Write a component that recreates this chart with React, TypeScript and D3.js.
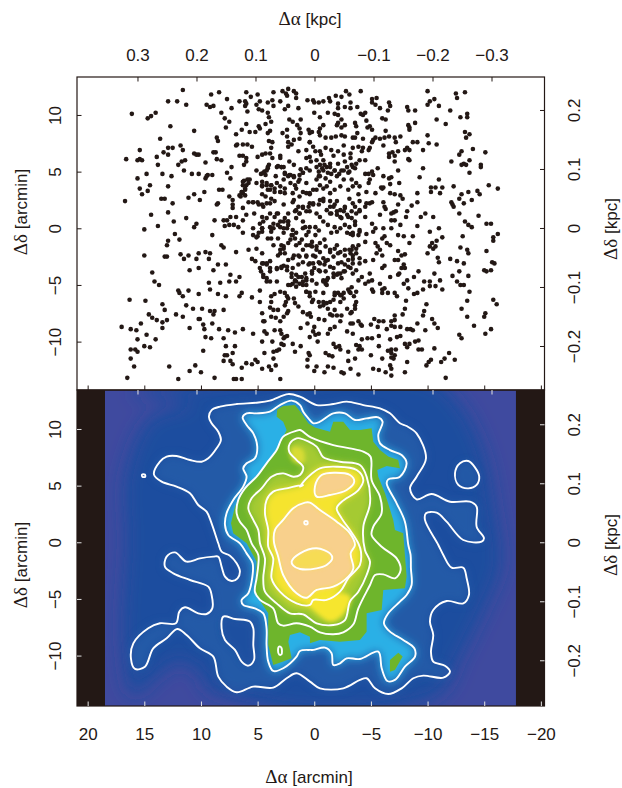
import React, { useRef, useEffect } from 'react';
import * as d3 from 'd3';

type Pt = [number, number];

// tick labels
const arcminTicksX = [20, 15, 10, 5, 0, -5, -10, -15, -20];
const arcminTicksY = [10, 5, 0, -5, -10];
const kpcTicksX = [0.3, 0.2, 0.1, 0, -0.1, -0.2, -0.3];
const kpcTicksY = [0.2, 0.1, 0, -0.1, -0.2];

// map coverage in arcmin, the rest of the panel is blank (black)
const mapEdgesX = [18.47, -17.8];
const mapEdgesY = [13.44, -14.45];

// star positions [d_alpha, d_delta] in arcmin
const starsUpperLeft: Pt[] = [
[11.6,12.2],[9.1,11.8],[8.4,12],[7.7,11.4],[12.9,11.2],[12.1,11.2],[11.3,10.9],[9.5,10.9],[9.2,10.7],[8.9,10.8],[16.1,10.1],[14.7,9.7],[14.4,9.9],[14,10.2],[8.2,10.2],[7.9,9.7],[7.5,9.4],[7.8,8.9],[7.3,10.6],[12.7,9],[10.6,8.6],[13.6,7.9],[8.6,8],[8.5,7.7],[12.9,7.1],[12.5,7.1],[11.8,7.3],[11.6,6.9],[15.4,6.9],[13.3,6.7],[12.9,6.5],[13.9,6.3],[16.6,6.1],[15.6,6],[15.4,6.1],[15.2,6],[10.6,6.6],[10.4,6.5],[10.2,6.5],[8.9,6.7],[8.7,6.7],[8.6,6.1],[8.2,6],[13.8,5.6],[9.6,5.8],[11.4,6],[11.7,5.9],[12,5.6],[13.4,4.8],[14.8,4.8],[15.6,4.4],[12.6,4.6],[11.5,5.1],[10.8,4.8],[10.2,4.8],[7.7,4.9],[7.3,5.4],[9.4,4.7],[9,4.7],[9.5,4.6],[9.6,4.4],[7.4,4.4],[12.9,3.7],[15.4,3.5],[14.5,3.8],[14.7,3.3],[15.2,3],[8.4,3.4],[8.1,3.4],[9.7,3.2],[10.6,3],[11.1,2.7],[10.1,2.5],[7.5,2.8],[16.7,2.4],[13.5,2.6],[13.2,2.6],[12.5,2.2],[8.5,2.2],[8.6,2.1],[12.9,1.4],[14.4,1.2],[11.3,0.9],[12.4,0.6],[8.8,0.7],[13.8,0.2],[15,-0.1],[10.4,0.4],[10.6,0.1],
[6,12],[5.6,11.6],[5,11.8],[3.6,12],[2.8,12.1],[2.5,11.9],[2.3,12.3],[1.8,12.1],[1.6,11.9],[2.4,11.7],[1.6,11.5],[0.6,11.3],[6.6,11.2],[6.1,11.2],[6,11],[5.1,10.9],[4.8,11.2],[4.1,11.1],[3.7,11.3],[3.6,10.8],[3,11.2],[2.6,10.5],[2.3,10.8],[1.4,10.6],[6.1,10.8],[5.9,10.3],[4.9,10.5],[4.6,10.4],[4.1,10.2],[4,9.8],[3.8,9.4],[4.3,9.2],[6,9.2],[6.4,8.7],[6.9,8.3],[5.7,8.5],[5.2,8.5],[4.9,9],[4.8,8.8],[3.9,8.6],[4.1,8.4],[2.8,8.4],[2.4,8.7],[2.2,9.6],[1.9,9.4],[1.2,9.6],[1.5,9.1],[1.3,8.8],[1.2,8.4],[0.5,8.7],[0.4,8.4],[2.4,8.1],[2.3,7.6],[1.8,7.8],[1.3,7.9],[2.3,7.2],[2,7.4],[1.4,6.8],[0.7,6.9],[0.4,7.6],[6.9,7.3],[6.8,7.4],[6.3,7.4],[5.9,7.4],[5.5,7.2],[4,7.7],[3.7,7.6],[3.8,7.1],[3.9,6.6],[4.3,6.6],[4.6,6.5],[5,6.3],[6.6,6.4],[6.3,6.4],[6,6.2],[6,5.9],[6.2,5.6],[5.1,5.1],[4.4,5],[4.1,5.3],[4,5.6],[3,6.4],[3,6.2],[3.7,6.2],[3.3,5.4],[2.9,5.4],[2.7,5.4],[2.2,5.9],[1.8,5.6],[1.2,5.2],[0.7,6.2],[0.3,5.9],[4.7,4.8],[4.3,4.7],[3.4,4.6],[2.6,4.9],[2.3,4.6],[2.2,4.7],[1.8,4.6],[1.3,4.7],[1,4.9],[6.2,4.2],[5.9,4.3],[5.7,4.3],[6.3,3.8],[6,3.8],[6.1,3.4],[6.4,3.2],[6.3,3.1],[6.5,2.8],[7.2,2.5],[7.2,2.1],[7.2,1.8],[6.3,1.8],[6,1.2],[5.3,1.3],[4.6,1],[5.1,4],[4.6,4.1],[4.6,3.7],[4.2,3.8],[3.8,3.8],[3.3,4],[2.7,4.3],[3,3.7],[2.6,3.5],[2.1,4],[1.7,3.8],[1.3,4.3],[0.7,4],[3.9,3.4],[3.5,3.2],[3,3.2],[4.6,3],[4.3,2.8],[3.8,2.6],[5.4,2.3],[5,2.3],[4.6,2.1],[3.9,2.2],[3.5,2.4],[2.7,2.1],[1.8,2.5],[1.3,2.8],[0.7,3.1],[1.6,1.6],[1,1.9],[0.4,2.2],[3.9,1.3],[3.3,1.3],[2.3,1.3],[1.3,1.3],[0.7,1.5],[4.8,0.4],[4.2,0.9],[3.6,0.4],[2.7,0.6],[2.3,0.6],[1.6,0.9],[1,0.6],[6.3,0.7],[6.9,1],[7.4,1],[7.7,0.7],[8,0.7],[7.9,0.2],[7.5,0.3],[7.1,0.3],[6.7,0.1],[5.4,0],[4.6,0],[3.8,0],[3,0.1],[2.4,0],[1,0],[0.4,0.1],
];

const starsUpperRight: Pt[] = [
[-2.8,12.1],[-4.1,12.1],[-3.1,11.8],[-2.4,11.6],[-1.9,11.7],[-1.3,11.5],[-0.8,11.2],[-0.4,11.1],[0.1,11.3],[0,11.1],[-1.4,11.2],[-2.1,11],[-3.2,11.1],[-3.2,10.6],[-2.7,10.7],[-2.1,10.6],[-3.8,10.7],[-5.1,11.4],[-5.5,11.5],[-5.1,11.1],[-5.4,10.9],[-5.8,10.6],[-6.6,11.1],[-6.7,10.8],[-6.5,10.4],[-8.2,10.7],[-8.3,10.4],[-8.9,10.4],[-10,12.1],[-10.6,11.4],[-10.2,11.2],[-10,10.9],[-11,10.8],[-12.5,11.9],[-13.3,12],[-12.6,11.5],[-12,10.4],[-12.9,9.8],[-13.5,10.1],[-13.5,9.8],[-10.8,9.6],[-11.6,9.2],[0,10.2],[-0.5,9.8],[-1.2,10.2],[-1.8,10.1],[-2.1,10],[-2.4,9.6],[-2.1,9.3],[-4.1,10.1],[-4.5,10.2],[-4.3,10],[-4.6,9.5],[-3.6,9.3],[-3.7,9],[-2.7,9.1],[-0.8,9.1],[-0.5,8.8],[-2.4,8.9],[-2,9.1],[-4.7,8.9],[-4.9,9],[-5.1,8.7],[-3.8,8.4],[-6.3,8.6],[-6,9.7],[-6.3,9.6],[-8.3,9.1],[-8.4,8.9],[-8.9,9.3],[-8.4,8.7],[-13.3,8.5],[-13.7,8.3],[-13.4,8],[-10,8.2],
[0.2,8.5],[-0.4,8.5],[-0.5,8.2],[-1,8],[-1.5,8],[-1.9,8.1],[-2.4,8.2],[-2.7,8.1],[-3.4,8],[-3.6,8],[-4.3,7.9],[-5.2,7.8],[-5.1,7.6],[-5.4,8],[-5.8,7.9],[-6.2,8],[-6.6,8.1],[-7.1,8],[-7.6,8.1],[-7.2,7.6],[-6.1,7.3],[-8.7,7.6],[-9.1,7.6],[-10.1,7.5],[-10.8,7.4],[-8.2,7.1],[-8,6.9],[-8.4,6.9],[-9.6,6.9],[-14,7],[-15.1,6.7],[-13,6.8],[-12.8,6.5],[-12.1,5.9],[-13.7,6],[-13.2,5.7],[-13,5.6],[-13.4,5.6],[-14.7,5.6],[-14.7,5.4],[-6.6,6.6],[-6.9,6.7],[-7.4,6.8],[-6.6,6.3],[-7.1,6.4],[-7.1,5.9],[-8.3,6.1],[-8.4,6],[-13.7,4.9],[-9.6,5.3],[-9.3,4.5],[-7.4,5.1],[-11,4.3],[-12.3,3.7],[-15.4,3.8],[-16.2,3.5],[-10.3,3.6],[-10.7,3.6],[-11.3,3.6],[-10.3,3.2],[-11.1,3.1],[-9.1,3.1],[-13.6,3.2],[-14.4,3.3],[-14.6,3],[-13,3],[-12.8,2.6],[-13.9,2.5],[-12.1,2.3],[-12.2,2.1],[-12.3,1.9],[-13.2,2.2],[-9.1,2.3],[-8.6,2],[-14.5,1.1],[-12.8,1.3],[-9.8,1.3],[-9.4,1],[-10.5,1],[-13.3,0.6],[-13.6,0.3],[-13.9,0.1],[-15.2,0.4],[-15.6,0.4],[-9.1,0.2],[-11,0],
[-6.8,4.5],[-6.6,4.4],[-6.1,4.6],[-5.6,5.3],[-5.2,4.7],[-5.1,5],[-4.5,4.8],[-4.8,4.8],[-4.9,4.3],[-4.8,4],[-6.7,3.9],[-7.5,4],[-5.9,3.6],[-6.1,3.6],[-6.7,3.1],[-7.1,3],[-7.6,2.9],[-7.8,2.6],[-7.4,2.1],[-6.1,2.3],[-6.2,1.9],[-6.3,1.7],[-7.2,1.5],[-7,1.4],[-6.8,1.3],[-8.2,1.5],[-8.1,1],[-6.8,0.7],[-7.1,0.7],[-7.6,0.3],[-6.1,0],[-6.8,0],[-5.4,0],[-5.1,0.4],[-5.8,1.2],[-4.9,2.2],[-4.5,1.9],[-4,2.4],[-4,1.6],[-4.5,1],[-3.7,1.3],[-3.3,1.5],[-3.3,0.9],[-3.6,0.6],[-3,1],[-2.6,1.5],[-2.3,1],[-2,1.5],[-1.7,1.9],[-1.1,1.6],[-1.4,1.3],[-0.5,1],[-0.2,1.3],[0.4,1.5],[0.1,2.1],[-0.5,2.5],[-0.8,2.6],[-1.4,2.4],[-2,2.4],[-2.7,1.9],[-3.1,2.6],[-3.4,2.2],[-3.9,3],[-4.6,3.2],[-5.4,3.1],[-6,3.5],[-4,3.7],[-3.4,3.7],[-3,3.4],[-2.3,3.7],[-1.8,3.4],[-1.1,3.7],[-0.5,3.8],[0.1,3.4],[0.4,3],[-0.4,4.6],[-1,4.4],[-1.4,4.1],[-2,4.6],[-2.6,4.3],[-3.3,4.3],[-3.7,4],[-0.8,5.1],[-1.2,4.9],[-1.8,5.1],[-2.4,5.1],[-3,4.9],[-3.4,5.4],[-4,6],[-4.5,6],[-3.2,6.2],[-2.6,6.5],[-2.1,6.8],[-1.5,6.9],[-1,7.1],[-0.5,6.8],[-0.1,6.8],[0.4,6.3],[-0.2,6],[-0.8,6],[-1.4,5.7],[-2.1,5.7],[-2.7,5.9],[-0.2,5.4],[0.4,5.1],[-0.5,5.6],[-1.1,5.4],[-2.6,7.3],[-3.4,7.1],[-3.9,7.2],[-4.3,7.1],[-4.2,6.8],[-4.9,7.1],[-4.8,6.9],[-3.2,6.6],[-1.7,6.4],[-0.6,6.5],[0.1,7.2],[0.4,7.6],
];

const starsLowerLeft: Pt[] = [
[12.3,-0.5],[12.9,-1.1],[13,-1.5],[11.9,-1],[9,-0.6],[8.2,-1.5],[8,-1.7],[6.9,-2.1],[15,-2.4],[13.2,-2.5],[13,-2.5],[11.8,-2.3],[11.5,-2.7],[11.1,-2.4],[10.2,-2.2],[10.4,-2.7],[9.6,-2.1],[9.2,-2.2],[9.3,-2.7],[5.8,-1.9],[5.1,-1.8],[4.6,-2.2],[5.5,-2.7],[5.2,-2.9],[8.5,-3.2],[7.8,-3.2],[11,-3.7],[10.2,-3.5],[8.9,-3.7],[14.3,-3.9],[7.4,-4.1],[6.6,-4.3],[14.1,-4.7],[13.7,-5],[9.3,-4.8],[8.3,-4.8],[7.5,-4.7],[6.9,-4.7],[9.2,-5.4],[12,-5.5],[11.9,-5.7],[11.1,-5.5],[10.2,-5.8],[11.6,-6],[8.5,-5.8],[7.8,-6],[6.4,-5.7],[6.6,-6],[16.3,-6.3],[14.9,-6.4],[5.5,-6.1],[4.8,-5.5],[4.8,-6.5],[13.4,-6.7],[11.3,-6.8],[13.2,-7.2],[10.7,-7.1],[9.9,-7.1],[8,-7.2],[9.2,-7.3],[8.8,-7.3],[8.9,-7.6],[14.6,-7.6],[14.3,-7.9],[13.9,-8.1],[13.4,-8.3],[13,-8.1],[12.2,-7.6],[11.6,-7.8],[10.2,-8],[10.1,-8],[9,-8.4],[9.8,-8.5],[17,-8.7],[16.2,-8.9],[15.7,-9],[15.3,-8.4],[13.4,-8.8],[11,-8.8],[9.7,-8.9],[8.4,-8.9],[7.6,-9],[7,-9.2],[6.3,-8.9],[5.4,-9.3],[9.6,-9.6],[9.1,-9.7],[14.8,-9.4],[15.6,-9.8],[14,-9.8],[8,-9.7],[7.8,-10.4],[7,-10.4],[4.6,-10],[15,-10.4],[14.5,-10.5],[16.2,-10.7],[15.8,-10.7],[15.6,-10.9],[9.8,-10.8],[16.2,-11.5],[7.9,-11.2],[7.7,-11.2],[7.2,-11],[8,-11.7],[7.4,-11.7],[7.2,-12],[15.9,-12.2],[12.8,-12.2],[10.5,-12.1],[11,-12.6],[10,-12.7],[16.5,-13.2],[12,-13.3],[8.8,-13.2],[7.1,-13.3],[6.9,-13.3],[6.4,-13.3],[6.4,-12.3],[6,-11.9],[5.5,-12],[5.2,-11.6],[5,-11.8],[4.6,-12.4],[4,-12.2],[3.8,-12.5],[3.4,-12.1],[3,-13.3],[4.4,-11],[3.6,-11.5],[3.6,-10.9],[3.3,-10.8],[3.1,-10.7],[3.7,-10],[2.9,-10.2],[2.7,-10.3],[2.6,-9.6],[2.4,-9.5],[1.9,-10.2],[1.2,-10.4],[1.7,-10.9],[1.2,-8.8],[0.6,-8.4],[0.4,-9.6],[0.6,-11.6],[0.6,-12.2],[0.5,-11],[3,-9],[2.9,-9.3],[2.7,-9.7],[3.5,-9],[4.2,-9.3],[4.4,-9.1],[4.5,-8.2],[4.4,-8.2],[4.6,-7.5],[3.9,-7],[3.6,-7.2],[3.2,-7.2],[3.8,-7.8],[3.4,-7.9],[3,-8.2],[2.3,-7.3],[2.4,-7.5],[2.7,-7.8],[2.4,-6],[2.5,-6.5],[2.6,-6.8],[3,-5.6],[3.5,-5.8],[3.8,-6],[3.8,-6.5],[1.8,-6.2],[1.7,-6.6],[1.4,-6.9],[1,-7.4],[0.6,-7.6],[0.3,-7.8],[0.4,-5.7],[0.7,-5.6],[4.7,-3.8],[4.2,-3.1],[4.6,-3.1],[3.9,-2.9],[4.5,-4.3],[4.2,-4.7],[3.3,-4.7],[2.7,-3.3],[2.3,-2.8],[1.8,-2.4],[1.3,-2.5],[0.7,-2.4],[3.3,-3.6],[2.9,-3.5],[2.4,-3.4],[3.9,-3.8],[2,-4],[1.6,-4.1],[1.1,-4.3],[0.7,-4.6],[2.3,-5],[1.9,-4.9],[1.3,-4.9],[0.7,-5],[1.7,-4.6],[3,-2.2],[2.7,-1.8],[2.9,-1.5],[2.3,-1.3],[1.6,-1.5],[1.1,-1],[0.4,-1.5],[3.6,-1.5],[4.1,-0.9],[5,-0.7],[6.3,-0.4],[5.4,-0.6],[4.6,-0.3],[3.8,-0.3],[2.7,-0.4],[1.9,-0.6],[0.7,-0.6],
];

const starsLowerRight: Pt[] = [
[-10.2,-0.3],[-11.3,-0.8],[-13.1,-0.7],[-16.2,-0.5],[-15.8,-0.8],[-15.8,-1.1],[-10.4,-1.3],[-10.8,-1.1],[-10.2,-1.6],[-10.7,-1.6],[-10.5,-1.8],[-12.9,-1.7],[-13.5,-1.9],[-13.6,-2.2],[-10,-2.2],[-10.9,-2.6],[-11,-3],[-12,-2.7],[-12.6,-2.9],[-13.2,-3.1],[-15.2,-2],[-15.7,-3],[-15.9,-3.1],[-15.6,-3.7],[-15,-3.7],[-15.2,-3.8],[-12.8,-3.8],[-10.6,-4],[-12.2,-4.2],[-13.6,-4.2],[-9.7,-4.7],[-10.2,-4.7],[-11.1,-4.6],[-12.6,-4.7],[-12.9,-5],[-13.2,-5],[-10.2,-5.1],[-10.7,-5.1],[-9.6,-5.4],[-11.3,-5.4],[-13.7,-5.6],[-9.2,-3.8],[-8.8,-4.3],[-8.2,-4.6],[-7.9,-4.9],[-8.3,-5.3],[-8.8,-5.8],[-9.1,-5.7],[-8.1,-6.4],[-9.9,-6.7],[-13.5,-6.4],[-15.8,-6.3],[-16.1,-6.7],[-13,-7.1],[-9.7,-7.3],[-9.6,-7.7],[-8,-7.1],[-7.8,-7.6],[-7.1,-7.7],[-15.1,-7.5],[-15,-7.8],[-13.5,-7.8],[-10.4,-8],[-10.6,-8.4],[-10.9,-8.8],[-9.1,-8.4],[-14.1,-8.6],[-15.6,-8.9],[-15.1,-9.3],[-9.8,-9],[-8.5,-8.9],[-8.7,-9],[-8.2,-8.9],[-7.1,-8.1],[-6.8,-8.2],[-6.8,-8.6],[-7.1,-8.7],[-7.6,-8.7],[-6.4,-8.9],[-5.7,-8.2],[-5.3,-8],[-6.1,-8.2],[-5,-8.5],[-5.6,-8.7],[-4.1,-8.5],[-3.9,-8.2],[-4.2,-8.6],[-3.2,-8.4],[-3.4,-8.4],[-2.4,-7.7],[-2,-7.7],[-1.6,-7.7],[-2.3,-8.2],[-1.4,-7.6],[-0.9,-8.1],[-0.4,-8],[-1.8,-8.7],[-1.4,-8.9],[-1.2,-9.3],[0,-8.7],[0.1,-9.1],[-0.4,-9.3],[-0.1,-9.4],[-0.3,-10],[-2.9,-9.1],[-3.4,-9.3],[-5.7,-9.5],[-4.7,-9.7],[-4.2,-9.8],[-5.1,-9.7],[-6.7,-9.8],[-7.3,-9.6],[-7.6,-9.5],[-8,-10.2],[-8.2,-10.5],[-8.4,-10.2],[-8.9,-10],[-9.2,-9.9],[-9.2,-10.7],[-9.5,-10.7],[-10.6,-10.6],[-11.9,-11],[-11.5,-11.5],[-11.2,-11.8],[-12.4,-11.6],[-10.3,-11.6],[-10.1,-11.8],[-9.9,-12.1],[-12.8,-9.4],[-13,-9.7],[-8.2,-11.8],[-8,-12.7],[-11.6,-13.2],[-6.8,-10.7],[-7.2,-10.7],[-6.5,-10.8],[-6.8,-11],[-7.1,-11.2],[-6.8,-11.4],[-7,-11.5],[-5.7,-10.4],[-5,-11.2],[-6,-11.5],[-6.7,-12.1],[-6.8,-12.4],[-6.3,-12.7],[-6.8,-13],[-5.2,-12.4],[-5.7,-12.5],[-3.9,-12.9],[-3.2,-12.4],[-2.6,-12.8],[-2.4,-12.7],[-1.7,-12.3],[-1.2,-12.2],[-0.9,-12.7],[0,-12.6],[-0.2,-12.2],[-3.6,-11.5],[-3,-11.7],[-1.6,-11.3],[-1.3,-11.2],[-1,-11],[0.4,-11.2],[-1.7,-10.2],[-1.9,-10.5],[-2.2,-10.4],[-2.3,-10.7],[-3,-10.9],[-3.7,-10.3],[-4,-10.4],[-4.2,-10.7],[-3.9,-10.7],
[-2.9,-0.4],[-3.2,-0.5],[-3.4,-0.6],[-4,-0.3],[-4.6,-0.5],[-5.2,-0.3],[-6,-0.9],[-6.2,-0.7],[-4.5,-1.2],[-5.4,-1.3],[-5.6,-1.6],[-5.8,-1.9],[-6,-2.4],[-5.5,-2.2],[-5.2,-2.8],[-6.2,-3.3],[-6.7,-4.3],[-6,-3.5],[-5.8,-4.9],[-6,-5.4],[-6,-5.7],[-6.2,-5.3],[-6.5,-5.7],[-7.1,-5.7],[-7.3,-6],[-7.4,-4.1],[-7.5,-4],[-7.7,-3.5],[-8,-3.5],[-7.9,-3.2],[-7.4,-2.8],[-7.1,-2.8],[-6.7,-1.5],[-6.4,-1.3],[-7.4,-2],[-7.7,-2.4],[-8,-2.3],[-8.4,-1.3],[-8.7,-0.7],[-7.4,-0.6],[-7.9,-0.7],[-4.9,-4],[-5.1,-4.6],[-4.8,-4.7],[-4.2,-4.3],[-3.9,-4.6],[-4.5,-4.9],[-5.2,-5.6],[-5.1,-5.4],[-3.7,-5.6],[-3.3,-5.2],[-3,-5.4],[-3.2,-5.7],[-2.6,-5.7],[-2.1,-5.7],[-1.8,-5.9],[-2.4,-5.9],[-3.5,-6],[-3.7,-6.5],[-3.6,-6.8],[-3.6,-7.1],[-3.3,-7.4],[-3.2,-7.5],[-2.9,-7.1],[-2.3,-6.5],[-1.8,-7.2],[-1.2,-7.1],[-0.8,-6.8],[-0.5,-6.9],[-0.4,-6.5],[-0.8,-6.5],[-1.1,-6.6],[-1.4,-6.5],[-1.7,-6.3],[0.1,-6.3],[0.2,-6.5],[0.4,-7.5],[-0.1,-5.6],[-0.8,-5.7],[-1,-4.9],[-0.8,-4.6],[-1.1,-4.6],[-0.2,-4.9],[0.2,-4.6],[-1.7,-4],[-2,-4.1],[-2.3,-4],[-2.4,-4.4],[-2.7,-3.8],[-3.2,-3.5],[-3.4,-4],[-3.7,-3.7],[-4,-3.1],[-4.5,-2.9],[-3.4,-2.7],[-3.2,-2.2],[-3.3,-1.9],[-3.7,-2.2],[-3.9,-1.5],[-3.4,-1.6],[-2.7,-1.9],[-2.1,-2.2],[-1.8,-1.8],[-1.4,-2.1],[-1,-1.6],[-0.5,-1.3],[-0.2,-1.9],[0.2,-1.6],[-0.1,-2.5],[0.4,-3.1],[-0.5,-3.1],[-1,-2.9],[-1.4,-3.4],[-1,-3.8],[-0.5,-3.8],[0,-3.5],[0.2,-4],
];

const starsCore: Pt[] = [
[-0.4,5],[-0.7,5.3],[-0.9,5.6],[-1.4,5.4],[-1.8,5.1],[-2.2,4.8],[-2.6,5.1],[-2.9,5.4],[-3.3,5.6],[-3.7,5.7],[-3.1,5],[-3.6,5.3],[-1.5,4.8],[-0.5,4.6],[-0.2,4.3],[2.6,4.8],[2.1,4.7],[1.8,4.5],[1.4,4.1],[1,4.9],[0.7,5.3],[2.9,5.4],[3.2,5.5],[4.2,5.1],[4.5,4.9],[4.1,5.4],[6.3,4.1],[5.8,4],[6.1,3.5],[6.4,3.2],[6.1,2.9],[6.6,2.9],[4.6,3.8],[4.2,4],[3.8,3.8],[3.5,3.5],[4.1,3.4],[3,3.2],[2.6,3.1],[1.9,3.1],[1.6,3.5],[1,3.2],[0.4,3.1],[-0.2,3.4],[-0.8,3.5],[-1.4,3.1],[5.8,2.3],[5.4,2.3],[4.9,2.1],[4.5,1.9],[4.2,2.2],[1.9,2.3],[1.4,1.9],[1,1.8],[0.5,1.9],[0.1,2.2],[-0.4,2.1],[-0.8,2.4],[-1.4,1.9],[-1.8,2.1],[-2.3,1.6],[-2.7,1.8],[1.7,1.5],[1.3,1.3],[-1.5,1.3],[-2,1.2],[-2.4,0.9],[-2.9,1.2],[-3.6,1.9],[-4,1.5],[-4.6,2.2],[-5.1,2.3],
[2.6,0.9],[2.3,0.6],[3,0.6],[3.5,1],[3.2,1.3],[3.9,0.1],[3.6,0],[3.2,0.3],[2.7,0],[2.3,0.3],[1.9,-0.15],[1.6,-0.4],[2,-0.6],[4.5,0.6],[4.6,0],[4.9,-0.4],[5.1,-0.8],[0.8,0.1],[0.5,-0.3],[-0.1,0.1],[-0.4,-0.2],[-0.1,-0.6],[-0.8,0.6],[-1.2,0.3],[-1.8,0.1],[-2.3,0],[-2.7,0.3],[-3.1,0.1],[-3.6,0.3],[-4,-0.15],[-1.5,-0.4],[-2,-0.3],[-3.4,-0.4],[-3.9,-0.6],[3.2,-0.9],[3.8,-0.9],[2.7,-1.6],[3,-1.9],[3.2,-2.4],[2.6,-2.2],[2.1,-1],[1.7,-0.9],[1.3,-1.3],[1,-1.9],[0.7,-1.5],[0.2,-1.2],[-0.2,-1.6],[-0.5,-2.1],[0.1,-2.4],[0.7,-2.5],[1.4,-2.4],[1.9,-2.65],[-0.9,-1],[-1.4,-1.9],[-2,-1.5],[-2.3,-2.1],[-2.7,-2.4],[-3.1,-1.9],[-3.4,-2.4],[-3.7,-1.8],[-4,-2.65],[-3,-2.8],[-2.4,-3],
[4.5,-3.1],[4.2,-3.2],[3.9,-3.5],[4.8,-3.5],[4.5,-4.1],[4.2,-4.4],[3.9,-4.7],[3.3,-3.5],[2.9,-3.4],[2.4,-3.7],[1.9,-3.5],[1.4,-3.2],[1,-3],[0.5,-3.2],[0.1,-3.1],[-0.4,-3],[-0.8,-2.65],[-1.2,-2.8],[-1.7,-2.5],[-0.9,-3.2],[-0.4,-3.7],[0.2,-3.8],[0.8,-4],[1.4,-4.3],[2,-4.3],[1.6,-4.7],[1,-4.7],[0.7,-4.4],[2.1,-5],[1.6,-5.15],[1,-5],[-0.8,-4.7],[-1.2,-4.4],[-1.7,-4.3],[-2.1,-4],[-2.6,-3.8],[-3,-3.4],[-3.4,-3.1],[-2.1,-3.1],[-2.7,-3.2],[-1.7,-3.5],[-1.1,-5],[-1.8,-5.7],[-2.3,-5.9],[-2.6,-6.2],[-3.1,-5.6],[2.6,-5.7],[2.3,-6.2],[0.7,-5.6],[0.4,-6],
];

// white iso-density contours in the lower panel, arcmin
const contourOuter: Pt[] = [
[2.3,13.08],[3.91,12.5],[5.09,12.32],[6.85,12.2],[8.32,11.97],[9.06,11.67],[9.3,11.08],[9.06,10.5],[8.47,9.76],[8.24,9.03],[8.62,8.29],[9.35,7.41],[9.94,7.11],[10.97,7.26],[12.15,7.61],[13.03,7.56],[13.62,7.11],[14.15,6],[13.47,5.35],[12.15,4.91],[10.97,4.32],[10.24,3.29],[9.5,2.7],[9.06,1.67],[8.47,-0.09],[8.18,-0.83],[7.44,-1.18],[6.85,-1.86],[6.56,-2.59],[6.77,-3.18],[7.29,-3.42],[7.88,-3.03],[8.18,-2.15],[8.47,-1.27],[8.91,-1.27],[10.09,-1.42],[11.27,-1.71],[12.3,-0.89],[13.03,-1.27],[13.18,-2.15],[12.44,-2.74],[10.97,-3.33],[9.35,-3.92],[9.06,-4.65],[9,-5.83],[9.5,-6.33],[10.24,-6.27],[11.41,-5.74],[11.91,-6.12],[12.21,-7.15],[13.62,-7.15],[14.65,-7.59],[15.97,-8.92],[16.18,-10.24],[15.82,-11.18],[14.94,-10.98],[14.21,-9.36],[13.03,-8.48],[12.09,-7.65],[11.27,-8.18],[10.09,-9.36],[8.91,-10.09],[8.47,-11.86],[7.74,-12.74],[6.85,-13.24],[5.38,-12.74],[3.62,-12.83],[2.44,-12],[1.56,-11.56],[0.38,-12.3],[-0.5,-12.89],[-2.56,-12.89],[-4.03,-12.15],[-4.62,-12],[-5.36,-12.89],[-6.53,-13.39],[-7.71,-12.89],[-8.74,-12],[-9.62,-11.77],[-11.39,-11.95],[-11.98,-11.42],[-11.53,-10.89],[-10.5,-10.53],[-10.3,-9.65],[-10.5,-8.18],[-10.21,-7],[-10.5,-5.98],[-11.68,-5.18],[-13.15,-5.39],[-13.65,-4.65],[-13.45,-3.18],[-13.15,-2.24],[-12.12,-2.24],[-11.39,-1.12],[-10.95,-0.24],[-9.77,1.97],[-9.86,2.56],[-10.8,2.61],[-11.68,1.82],[-13.15,0.2],[-14.77,0.06],[-14.98,0.35],[-14.33,1.38],[-14.33,3.14],[-13.74,3.58],[-11.98,3.58],[-10.36,4.26],[-9.03,3.79],[-8.45,4.76],[-9.03,5.79],[-9.86,7.41],[-9.03,9.61],[-8.15,10.26],[-7.56,10.5],[-6.68,11.38],[-5.8,11.82],[-4.33,12.11],[-2.86,12.41],[-1.68,12.2],[-0.21,12.11],[1.26,12.85],
];
const contourEastLobe: Pt[] = [[-13.59,7.17],[-12.86,6.97],[-12.42,6.08],[-12.71,5.06],[-13.59,4.76],[-14.33,5.06],[-14.56,5.79],[-14.18,6.61]];
const contourHole: Pt[] = [[8.03,-6.56],[7,-6.77],[5.68,-7],[5.38,-7.59],[5.38,-9.06],[5.32,-10.39],[5.82,-10.89],[6.41,-10.53],[7,-9.5],[7.88,-8.62],[8.18,-7.59]];
const contourDotWest: Pt[] = [[15.2,5.98],[14.95,5.98],[14.92,5.78],[15.17,5.78]];
const contourDotSouth: Pt[] = [[3.1,-9.2],[2.9,-9.3],[2.9,-9.9],[3.1,-9.9],[3.2,-9.55]];
const contourDotCentre: Pt[] = [[0.86,1.85],[0.62,1.85],[0.6,1.6],[0.85,1.6]];
const contourSecond: Pt[] = [
[2,12.5],[3.03,12.11],[3.91,11.53],[5.09,11.38],[5.97,11.38],[6.32,11.03],[5.97,10.35],[5.38,9.61],[5.03,8.44],[5.24,7.41],[5.97,6.97],[6.27,6.53],[5.97,5.79],[6.27,4.91],[7.15,3.73],[7.74,2.56],[7.88,1.53],[7.59,0.64],[6.56,-0.09],[5.97,-0.98],[5.44,-1.86],[5.53,-3.48],[5.82,-4.5],[6.41,-5.09],[6.27,-5.53],[5.24,-5.83],[4.5,-6.27],[4.21,-7.59],[4.21,-9.06],[4.06,-10.53],[3.62,-11.36],[2.74,-11.12],[1.56,-10.09],[1.26,-9.59],[0.38,-9.5],[0.08,-9.5],[-0.95,-9.3],[-1.53,-9.8],[-1.68,-10.83],[-2.27,-10.68],[-2.86,-10.24],[-4.03,-10.3],[-5.65,-9.65],[-5.95,-11.12],[-6.45,-12.24],[-7.12,-12.15],[-8,-10.98],[-8.89,-10.09],[-8.83,-9.36],[-7.85,-8.62],[-6.68,-7.89],[-6.15,-7.15],[-6.53,-6.27],[-7.56,-5.24],[-8.15,-4.65],[-8.59,-3.77],[-8.53,-2.3],[-8.5,-1.12],[-8.3,-0.24],[-8,1.82],[-7.27,3.44],[-6.39,5.2],[-6.53,5.55],[-7.56,5.79],[-8.15,6.97],[-7.71,7.7],[-6.68,8.14],[-5.8,8.73],[-5.65,9.47],[-6.03,10.64],[-5.65,11.03],[-4.62,10.94],[-3.59,10.79],[-2.71,11.38],[-1.68,11.38],[-0.5,10.64],[0.08,10.5],[0.52,10.94],[0.97,11.53],[1.26,12.11],
];
const contourThird: Pt[] = [
[1.56,9.85],[2.74,9.32],[3.32,8.14],[4.21,6.97],[5.09,5.79],[6.12,4.76],[6.71,3.73],[6.85,2.56],[6.56,1.82],[5.97,1.08],[5.53,-0.09],[4.94,-1.12],[4.94,-2],[5.09,-3.18],[5.24,-4.36],[4.79,-5.09],[3.62,-5.83],[3.18,-7.15],[2.74,-7.36],[1.56,-7.15],[0.38,-7.45],[-0.5,-7.95],[-1.68,-8.12],[-2.56,-7.95],[-3.45,-7.24],[-3.89,-5.83],[-4.92,-3.77],[-5.36,-2.89],[-6.09,-2.83],[-7.12,-3.18],[-7.62,-2.45],[-7.27,-1.42],[-5.95,-0.39],[-5.06,0.64],[-5.21,1.38],[-5.94,2.56],[-5.8,4.03],[-5.06,5.5],[-4.97,7.55],[-4.33,8],[-3.15,8.29],[-1.68,8.58],[0.31,9.26],[1.26,9.91],
];
const contourFourth: Pt[] = [
[1.56,9.17],[2.15,8.73],[2.21,8],[1.56,7.26],[0.97,6.61],[1.26,5.94],[1.85,5.79],[2.74,6.08],[3.77,5.79],[4.65,4.76],[5.53,3.88],[5.82,3],[5.38,1.97],[4.94,1.08],[4.79,-0.09],[4.35,-1.42],[4.5,-3.18],[4.35,-4.36],[3.32,-5.39],[2.15,-6.27],[0.97,-6.36],[-0.21,-7.15],[-1.68,-7.3],[-2.71,-6.86],[-3.15,-5.24],[-3.89,-4.36],[-4.62,-2.89],[-4.92,-1.71],[-4.47,-0.68],[-4.33,1.38],[-4.92,3.44],[-4.62,5.79],[-4.03,6.82],[-2.27,7.11],[-0.8,7.5],[-0.21,8.44],[1.26,9.17],
];
const contourFifth: Pt[] = [
[0.97,5.06],[2.44,4.76],[3.62,4.47],[4.21,3.73],[4.35,2.56],[4.06,1.08],[4.06,-0.38],[3.62,-1.42],[3.77,-3.18],[3.03,-4.36],[1.56,-5.39],[0.38,-5.53],[0.08,-5.09],[-1.09,-5.09],[-2.27,-4.36],[-3,-3.18],[-4.03,-2],[-4.12,-0.83],[-3.89,-0.09],[-3.15,1.08],[-2.42,2.11],[-1.98,3],[-2.42,3.58],[-3.89,4.61],[-4.33,5.5],[-3.74,6.38],[-1.98,6.67],[-0.5,6.53],[0.52,5.79],[1.26,4.91],
];
const contourPeakNorth: Pt[] = [[-0.65,5.94],[-0.06,4.91],[-0.21,4.03],[-1.39,4.17],[-2.86,4.61],[-3.53,5.35],[-3.15,5.94],[-1.83,6.14]];
const contourPeakCentre: Pt[] = [
[0.82,3.5],[1.85,3],[2.74,1.97],[3.47,1.08],[3.56,0.06],[3.18,-1.27],[2.74,-2.89],[1.56,-4.5],[0.68,-4.89],[-0.21,-4.21],[-1.68,-3.92],[-3,-3.03],[-3.45,-2.3],[-3.21,-0.98],[-3.59,-0.24],[-3.15,0.79],[-1.98,1.82],[-0.5,2.85],[0.38,3.5],
];
const contourPeakDip: Pt[] = [[2,-1.71],[1.26,-0.98],[-0.21,-0.53],[-1.39,-0.98],[-1.59,-1.42],[-1.09,-2],[-0.21,-2.3],[1.26,-2.36],[1.85,-2.06]];

// colour-band outlines of the density map, arcmin
const bandBlue: Pt[] = [[16,13.2],[5,14.5],[-10,14.5],[-13,12],[-15,8],[-16,3],[-16.5,-2],[-15,-6],[-13,-10],[-11,-13.5],[0,-15],[7,-13.8],[9.5,-13],[10,-11.8],[12,-10.6],[14,-12],[16,-13.5],[17,-9],[16.7,0],[16.7,6],[14.5,11],[11,12.2]];
const bandGreen: Pt[] = [
[3.27,11.73],[2.74,12.03],[1.71,12.11],[1.12,11.38],[0.53,10.5],[-0.06,10.14],[-1.39,9.76],[-1.68,10.64],[-2.56,10.64],[-3.15,9.91],[-4.03,9.91],[-5.06,10.06],[-5.21,8.88],[-5.8,8.14],[-6.53,7.56],[-7.41,7.26],[-7.56,6.53],[-6.39,6.73],[-5.56,6.38],[-5.65,5.79],[-6.24,4.32],[-6.97,1.97],[-7.12,1.08],[-7.85,0.79],[-8.15,-3.03],[-8,-4.06],[-6.09,-4.21],[-5.95,-5.97],[-4.62,-6.27],[-4.62,-7.89],[-4.03,-8.62],[-2.27,-8.77],[-0.5,-8.62],[0.38,-8.92],[0.38,-8.33],[1.26,-7.95],[2.15,-8.18],[2.29,-8.77],[2,-10.24],[2.74,-10.53],[3.62,-10.83],[4.06,-9.06],[4.06,-6.27],[4.65,-5.39],[5.24,-4.36],[5.09,-1.71],[5.97,-0.09],[7.15,0.79],[7.35,1.67],[7,3.14],[6.27,4.61],[5.09,5.79],[3.91,7.26],[3.18,8.44],[2.44,9.91],[2.74,10.64],[3.32,11.08],
];
const bandGreenSpot: Pt[] = [[-6.68,-10.39],[-7.42,-9.74],[-7.8,-10.09],[-7.12,-11.27],[-6.68,-11.42]];
const bandYellowSouth: Pt[] = [[0.8,-5],[-0.5,-6.5],[-1.5,-7],[-2.6,-6.3],[-3.2,-4.8],[-1.5,-4.4]];
const bandYellowNorth: Pt[] = [[2,8.4],[1,8.2],[0.9,7],[1.9,7.2]];

const ink = '#231815';
const tickLight = '#e6e6e6';
const fontFamily = '"Liberation Sans", Arial, sans-serif';
const width = 622;
const height = 788;
const panelLeft = 77;
const panelRight = 544.5;

const signed = (d: number) => (d < 0 ? '\u2212' + Math.abs(d) : String(d));

export default function App() {
  const svgRef = useRef<SVGSVGElement>(null);

  useEffect(() => {
    const svg = d3.select(svgRef.current);
    svg.selectAll('*').remove();

    const xArc = d3.scaleLinear().domain([20.94, -20.32]).range([panelLeft, panelRight]);
    const xKpc = d3.scaleLinear().domain([0.4025, -0.3898]).range([panelLeft, panelRight]);
    const yArcTop = d3.scaleLinear().domain([13.35, -14.27]).range([77, 390]);
    const yKpcTop = d3.scaleLinear().domain([0.2559, -0.2746]).range([77, 390]);
    const yArcLow = d3.scaleLinear().domain([13.44, -14.45]).range([390, 706]);
    const yKpcLow = d3.scaleLinear().domain([0.2581, -0.2775]).range([390, 706]);

    const defs = svg.append('defs');
    [1.2, 2.2, 3.5, 5, 9].forEach((s, i) => {
      defs.append('filter').attr('id', `blur${i}`)
        .attr('filterUnits', 'userSpaceOnUse')
        .attr('x', 0).attr('y', 300).attr('width', width).attr('height', 480)
        .append('feGaussianBlur').attr('stdDeviation', s);
    });
    defs.append('clipPath').attr('id', 'mapClip').append('rect')
      .attr('x', xArc(mapEdgesX[0])).attr('y', 390)
      .attr('width', xArc(mapEdgesX[1]) - xArc(mapEdgesX[0])).attr('height', 316);

    // upper panel, scatter
    svg.append('rect').attr('width', width).attr('height', height).attr('fill', '#fff');
    const stars = [...starsUpperLeft, ...starsUpperRight, ...starsLowerLeft, ...starsLowerRight, ...starsCore];
    svg.append('g').selectAll('circle').data(stars).join('circle')
      .attr('cx', d => xArc(d[0])).attr('cy', d => yArcTop(d[1]))
      .attr('r', 2.3).attr('fill', ink);

    // lower panel, density map
    const closedCurve = d3.line<Pt>().x(d => xArc(d[0])).y(d => yArcLow(d[1])).curve(d3.curveCatmullRomClosed.alpha(0.5));
    const closedPoly = d3.line<Pt>().x(d => xArc(d[0])).y(d => yArcLow(d[1])).curve(d3.curveLinearClosed);

    svg.append('rect').attr('x', panelLeft).attr('y', 390)
      .attr('width', panelRight - panelLeft).attr('height', 316).attr('fill', ink);

    const map = svg.append('g').attr('clip-path', 'url(#mapClip)');
    map.append('rect')
      .attr('x', xArc(mapEdgesX[0])).attr('y', yArcLow(mapEdgesY[0]))
      .attr('width', xArc(mapEdgesX[1]) - xArc(mapEdgesX[0]))
      .attr('height', yArcLow(mapEdgesY[1]) - yArcLow(mapEdgesY[0]))
      .attr('fill', '#3f4a9f');

    const layer = (pts: Pt[], fill: string, blur: number | null, opacity = 1, smooth = true) => {
      const p = map.append('path').attr('d', (smooth ? closedCurve : closedPoly)(pts)).attr('fill', fill).attr('opacity', opacity);
      if (blur !== null) p.attr('filter', `url(#blur${blur})`);
    };
    layer(bandBlue, '#1c4e9f', 4);
    layer(contourOuter, '#2b68b0', 3, 0.5);
    layer(contourHole, '#1c4e9f', 2, 0.8);
    layer(contourEastLobe, '#2560ab', 2, 0.6);
    layer(contourSecond, '#2bb0e6', 3);
    layer(bandGreen, '#6eb52c', null, 1, false);
    layer(bandGreenSpot, '#6eb52c', null, 1, false);
    layer(contourFourth, '#a5ca30', 2);
    layer(bandYellowNorth, '#d8dc34', 1);
    layer(contourFifth, '#f5e42e', 2);
    layer(bandYellowSouth, '#f6e62e', 1);
    layer(contourPeakCentre, '#f8d08c', 1);
    layer(contourPeakNorth, '#f8d08c', 1);
    layer(contourPeakDip, '#f6dc55', 1);

    const lines = svg.append('g').attr('fill', 'none').attr('stroke', '#fff').attr('stroke-width', 1.9);
    [contourOuter, contourEastLobe, contourHole, contourSecond, contourThird, contourFourth,
      contourFifth, contourPeakNorth, contourPeakCentre, contourPeakDip,
      contourDotWest, contourDotSouth, contourDotCentre].forEach(c => {
      lines.append('path').attr('d', closedCurve(c));
    });

    // frames
    svg.append('rect').attr('x', panelLeft).attr('y', 77).attr('width', panelRight - panelLeft).attr('height', 313)
      .attr('fill', 'none').attr('stroke', ink).attr('stroke-width', 1.2);
    svg.append('rect').attr('x', panelLeft).attr('y', 390).attr('width', panelRight - panelLeft).attr('height', 316)
      .attr('fill', 'none').attr('stroke', ink).attr('stroke-width', 1.2);

    const styleAxis = (g: any, colour: string) => {
      g.select('.domain').remove();
      g.selectAll('line').attr('stroke', colour).attr('stroke-width', 1);
      g.selectAll('text').attr('fill', ink).attr('font-size', 17).attr('font-family', fontFamily);
    };
    const sideLabels = (g: any, offset: number) => {
      g.selectAll('text')
        .attr('x', 0).attr('y', 0).attr('dy', 0)
        .attr('text-anchor', 'middle')
        .attr('transform', `translate(${offset},0) rotate(-90)`);
    };
    const blank = () => '';

    // upper panel axes
    let g: any = svg.append('g').attr('transform', 'translate(0,77)')
      .call(d3.axisTop(xKpc).tickValues(kpcTicksX).tickSizeInner(-4.5).tickSizeOuter(0).tickPadding(16).tickFormat(signed as any));
    styleAxis(g, ink);
    g = svg.append('g').attr('transform', 'translate(0,390)')
      .call(d3.axisBottom(xArc).tickValues(arcminTicksX).tickSizeInner(-4.5).tickSizeOuter(0).tickFormat(blank as any));
    styleAxis(g, ink);
    g = svg.append('g').attr('transform', `translate(${panelLeft},0)`)
      .call(d3.axisLeft(yArcTop).tickValues(arcminTicksY).tickSizeInner(-4.5).tickSizeOuter(0).tickFormat(signed as any));
    styleAxis(g, ink);
    sideLabels(g, -16);
    g = svg.append('g').attr('transform', `translate(${panelRight},0)`)
      .call(d3.axisRight(yKpcTop).tickValues(kpcTicksY).tickSizeInner(-4.5).tickSizeOuter(0).tickFormat(signed as any));
    styleAxis(g, ink);
    sideLabels(g, 35);

    // lower panel axes
    g = svg.append('g').attr('transform', 'translate(0,390)')
      .call(d3.axisTop(xKpc).tickValues(kpcTicksX).tickSizeInner(-4.5).tickSizeOuter(0).tickFormat(blank as any));
    styleAxis(g, tickLight);
    g = svg.append('g').attr('transform', 'translate(0,706)')
      .call(d3.axisBottom(xArc).tickValues(arcminTicksX).tickSizeInner(-4.5).tickSizeOuter(0).tickPadding(22).tickFormat(signed as any));
    styleAxis(g, tickLight);
    g = svg.append('g').attr('transform', `translate(${panelLeft},0)`)
      .call(d3.axisLeft(yArcLow).tickValues(arcminTicksY).tickSizeInner(-4.5).tickSizeOuter(0).tickFormat(signed as any));
    styleAxis(g, tickLight);
    sideLabels(g, -16);
    g = svg.append('g').attr('transform', `translate(${panelRight},0)`)
      .call(d3.axisRight(yKpcLow).tickValues(kpcTicksY).tickSizeInner(-4.5).tickSizeOuter(0).tickFormat(signed as any));
    styleAxis(g, tickLight);
    sideLabels(g, 35);

    // axis titles
    const title = (x: number, y: number, greek: string, unit: string, rotate: boolean) => {
      const t = svg.append('text')
        .attr('text-anchor', 'middle').attr('fill', ink)
        .attr('font-size', 17).attr('font-family', fontFamily)
        .attr('transform', `translate(${x},${y})${rotate ? ' rotate(-90)' : ''}`);
      t.append('tspan').attr('font-family', '"Liberation Serif", serif').attr('font-size', 19).text(greek);
      t.append('tspan').text(' ' + unit);
    };
    title(310, 25, '\u0394\u03b1', '[kpc]', false);
    title(309, 783, '\u0394\u03b1', '[arcmin]', false);
    title(27, 212, '\u0394\u03b4', '[arcmin]', true);
    title(27, 565, '\u0394\u03b4', '[arcmin]', true);
    title(617, 229, '\u0394\u03b4', '[kpc]', true);
    title(617, 545, '\u0394\u03b4', '[kpc]', true);
  }, []);

  return (
    <svg ref={svgRef} width={width} height={height}
      style={{ position: 'absolute', left: 0, top: 0, display: 'block' }} />
  );
}
